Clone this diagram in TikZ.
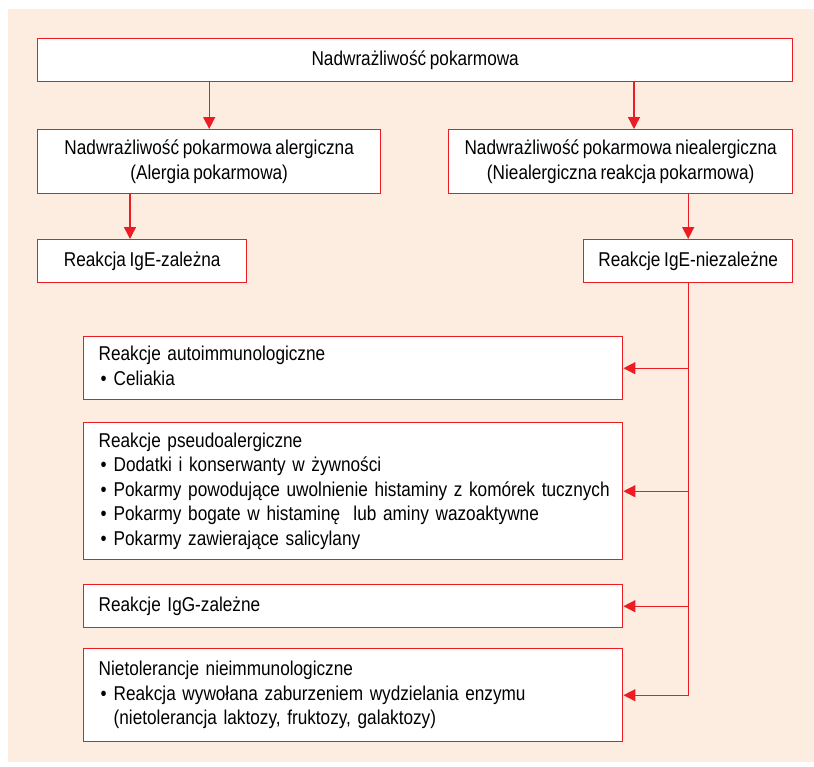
\documentclass[tikz,border=0pt]{standalone}
\usepackage{fontspec}
\setmainfont{Liberation Sans}[FakeStretch=0.86]
\usetikzlibrary{arrows.meta}
\definecolor{myred}{RGB}{237,28,36}
\definecolor{peach}{RGB}{253,237,224}
\newcommand\bul{\makebox[15pt][l]{\hspace{2pt}\textbullet}}
\newcommand\boxfont{\fontsize{20}{24.5}\selectfont\fontdimen2\font=3.7pt\relax}
\newenvironment{lines}{\begin{tabular}{@{}l@{}}}{\end{tabular}}
\begin{document}
\begin{tikzpicture}[x=1pt,y=-1pt,
  box/.style={draw=myred, fill=white, line width=1.4pt, inner sep=0pt, anchor=north west,
    font=\boxfont},
  cbox/.style={box, align=center},
  lbox/.style={box, align=left, inner xsep=15pt, text width=509pt},
  arr/.style={draw=myred, line width=1.4pt, -{Triangle[length=12pt,width=12pt]}}]
\useasboundingbox (0,0) rectangle (814,766);
\fill[white] (0,0) rectangle (814,766);
\fill[peach] (8,9) rectangle (814,762);
\node[cbox, minimum width=755pt, minimum height=43pt] (top) at (37,38) {Nadwrażliwość pokarmowa};
\node[cbox, minimum width=343pt, minimum height=64pt] (L) at (37,129) {Nadwrażliwość pokarmowa alergiczna\\(Alergia pokarmowa)};
\node[cbox, minimum width=344pt, minimum height=64pt] (R) at (448,129) {Nadwrażliwość pokarmowa niealergiczna\\(Niealergiczna reakcja pokarmowa)};
\node[cbox, minimum width=209pt, minimum height=43pt] (Ez) at (37,239) {Reakcja IgE-zależna};
\node[cbox, minimum width=209pt, minimum height=43pt] (En) at (583,239) {Reakcje IgE-niezależne};
\node[lbox, minimum height=63pt] (A) at (83,336) {\begin{lines}Reakcje autoimmunologiczne\\\bul Celiakia\end{lines}};
\node[lbox, minimum height=137pt] (P) at (83,422) {\begin{lines}Reakcje pseudoalergiczne\\\bul Dodatki i konserwanty w żywności\\\bul Pokarmy powodujące uwolnienie histaminy z komórek tucznych\\\bul Pokarmy bogate w histaminę\ \ lub aminy wazoaktywne\\\bul Pokarmy zawierające salicylany\end{lines}};
\node[lbox, minimum height=43pt] (G) at (83,584) {\begin{lines}Reakcje IgG-zależne\end{lines}};
\node[lbox, minimum height=93pt] (N) at (83,648) {\begin{lines}Nietolerancje nieimmunologiczne\\\bul Reakcja wywołana zaburzeniem wydzielania enzymu\\\hspace*{15pt}(nietolerancja laktozy, fruktozy, galaktozy)\end{lines}};
\coordinate (c1) at (634,0);
\coordinate (c2) at (130,0);
\draw[arr] (L.north |- top.south) -- (L.north);
\draw[arr] (c1 |- top.south) -- (c1 |- R.north);
\draw[arr] (c2 |- L.south) -- (c2 |- Ez.north);
\draw[arr] (En.north |- R.south) -- (En.north);
\draw[arr] (En.south) |- (N.east);
\draw[arr] (En.south |- A.east) -- (A.east);
\draw[arr] (En.south |- P.east) -- (P.east);
\draw[arr] (En.south |- G.east) -- (G.east);
\end{tikzpicture}
\end{document}
